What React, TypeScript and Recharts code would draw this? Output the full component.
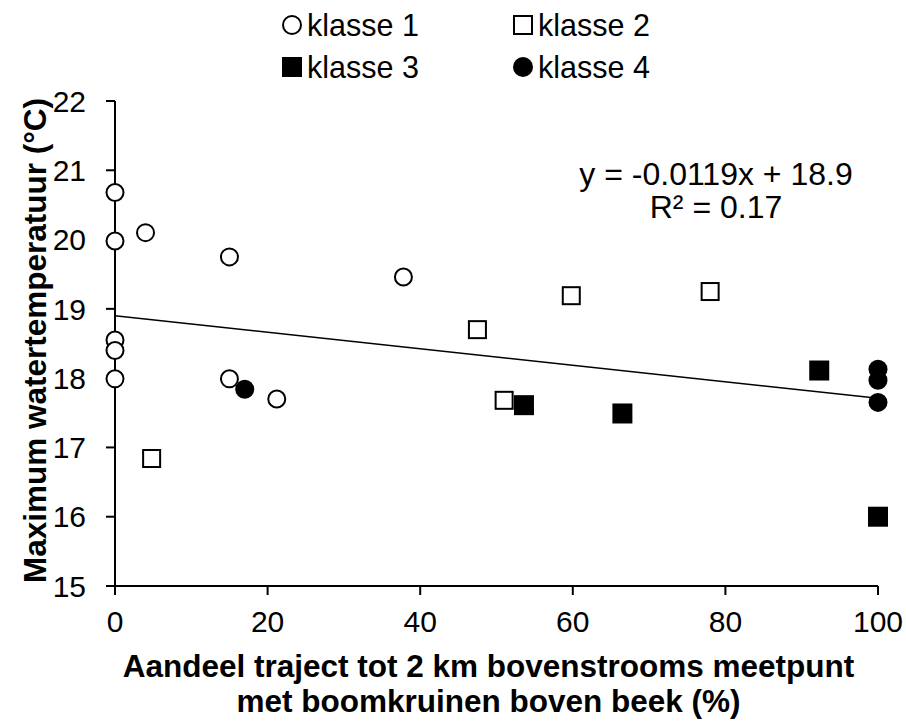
import { ScatterChart, Scatter, XAxis, YAxis, ReferenceLine, Label } from 'recharts';

// x = aandeel met boomkruinen (%), y = maximum watertemperatuur (°C)
const klasse1 = [
  { x: 0, y: 20.68 },
  { x: 0, y: 19.98 },
  { x: 4.0, y: 20.1 },
  { x: 15.0, y: 19.75 },
  { x: 37.8, y: 19.46 },
  { x: 0, y: 18.55 },
  { x: 0, y: 18.4 },
  { x: 0, y: 17.99 },
  { x: 15.0, y: 17.99 },
  { x: 21.2, y: 17.7 },
];

const klasse2 = [
  { x: 4.8, y: 16.84 },
  { x: 47.5, y: 18.7 },
  { x: 51.0, y: 17.68 },
  { x: 59.8, y: 19.19 },
  { x: 78.0, y: 19.25 },
];

const klasse3 = [
  { x: 53.6, y: 17.61 },
  { x: 66.5, y: 17.49 },
  { x: 92.3, y: 18.11 },
  { x: 100, y: 16.0 },
];

const klasse4 = [
  { x: 17.0, y: 17.84 },
  { x: 100, y: 18.13 },
  { x: 100, y: 17.97 },
  { x: 100, y: 17.65 },
];

const xTicks = [0, 20, 40, 60, 80, 100];
const yTicks = [15, 16, 17, 18, 19, 20, 21, 22];

const slope = -0.0119;
const intercept = 18.9;

const FONT = '"Liberation Sans", Arial, sans-serif';

const OpenCircle = (props: any) => (
  <circle cx={props.cx} cy={props.cy} r={8.5} fill="#fff" stroke="#000" strokeWidth={2} />
);
const FilledCircle = (props: any) => <circle cx={props.cx} cy={props.cy} r={9.5} fill="#000" />;
const OpenSquare = (props: any) => (
  <rect x={props.cx - 8.5} y={props.cy - 8.5} width={17} height={17} fill="#fff" stroke="#000" strokeWidth={2} />
);
const FilledSquare = (props: any) => (
  <rect x={props.cx - 10} y={props.cy - 10} width={20} height={20} fill="#000" />
);

const legendItems = [
  { name: 'klasse 1', shape: 'oc', cx: 292, cy: 25 },
  { name: 'klasse 2', shape: 'os', cx: 523, cy: 25 },
  { name: 'klasse 3', shape: 'fs', cx: 292, cy: 67 },
  { name: 'klasse 4', shape: 'fc', cx: 523, cy: 67 },
];

const LegendMarker = ({ shape, cx, cy }: { shape: string; cx: number; cy: number }) => {
  if (shape === 'oc') return <circle cx={cx} cy={cy} r={9} fill="#fff" stroke="#000" strokeWidth={2} />;
  if (shape === 'fc') return <circle cx={cx} cy={cy} r={10} fill="#000" />;
  if (shape === 'os') return <rect x={cx - 9} y={cy - 9} width={18} height={18} fill="#fff" stroke="#000" strokeWidth={2} />;
  return <rect x={cx - 10} y={cy - 10} width={20} height={20} fill="#000" />;
};

const XTitle = (props: any) => {
  const { x, y, width } = props.viewBox;
  const cx = x + width / 2 - 8;
  return (
    <text textAnchor="middle" fontFamily={FONT} fontSize={31.5} fontWeight="bold" fill="#000">
      <tspan x={cx} y={y + 91}>Aandeel traject tot 2 km bovenstrooms meetpunt</tspan>
      <tspan x={cx} y={y + 126}>met boomkruinen boven beek (%)</tspan>
    </text>
  );
};

const YTitle = (props: any) => {
  const { y, height } = props.viewBox;
  const cy = y + height / 2 - 3;
  return (
    <text
      x={46}
      y={cy}
      transform={`rotate(-90, 46, ${cy})`}
      textAnchor="middle"
      fontFamily={FONT}
      fontSize={31.5}
      fontWeight="bold"
      fill="#000"
    >
      Maximum watertemperatuur (°C)
    </text>
  );
};

const App = () => {
  return (
    <div style={{ position: 'absolute', left: 0, top: 0, width: 906, height: 722, background: '#fff' }}>
      <ScatterChart width={906} height={722} margin={{ top: 101, right: 28, bottom: 0, left: 0 }}>
        <XAxis
          type="number"
          dataKey="x"
          domain={[0, 100]}
          ticks={xTicks}
          interval={0}
          height={136}
          axisLine={{ stroke: '#000', strokeWidth: 2 }}
          tickLine={{ stroke: '#000', strokeWidth: 2 }}
          tickSize={9}
          tickMargin={16}
          tick={{ fill: '#000', fontSize: 30, fontFamily: FONT }}
        >
          <Label content={XTitle} />
        </XAxis>
        <YAxis
          type="number"
          dataKey="y"
          domain={[15, 22]}
          ticks={yTicks}
          interval={0}
          width={115}
          axisLine={{ stroke: '#000', strokeWidth: 2 }}
          tickLine={{ stroke: '#000', strokeWidth: 2 }}
          tickSize={9}
          tickMargin={20}
          tick={{ fill: '#000', fontSize: 30, fontFamily: FONT }}
        >
          <Label content={YTitle} />
        </YAxis>
        <ReferenceLine
          segment={[
            { x: 0, y: intercept },
            { x: 100, y: intercept + slope * 100 },
          ]}
          stroke="#000"
          strokeWidth={1.5}
          ifOverflow="visible"
        />
        <Scatter name="klasse 1" data={klasse1} shape={OpenCircle} isAnimationActive={false} />
        <Scatter name="klasse 2" data={klasse2} shape={OpenSquare} isAnimationActive={false} />
        <Scatter name="klasse 3" data={klasse3} shape={FilledSquare} isAnimationActive={false} />
        <Scatter name="klasse 4" data={klasse4} shape={FilledCircle} isAnimationActive={false} />
      </ScatterChart>
      <svg width={906} height={100} style={{ position: 'absolute', left: 0, top: 0 }}>
        {legendItems.map((item) => (
          <g key={item.name}>
            <LegendMarker shape={item.shape} cx={item.cx} cy={item.cy} />
            <text x={item.cx + 15} y={item.cy + 11} fontFamily={FONT} fontSize={30.5} fill="#000">
              {item.name}
            </text>
          </g>
        ))}
      </svg>
      <svg width={906} height={240} style={{ position: 'absolute', left: 0, top: 0 }}>
        <text x={716} y={185} textAnchor="middle" fontFamily={FONT} fontSize={32} fill="#000">
          y = -0.0119x + 18.9
        </text>
        <text x={716} y={218} textAnchor="middle" fontFamily={FONT} fontSize={32} fill="#000">
          R² = 0.17
        </text>
      </svg>
    </div>
  );
};

export default App;
